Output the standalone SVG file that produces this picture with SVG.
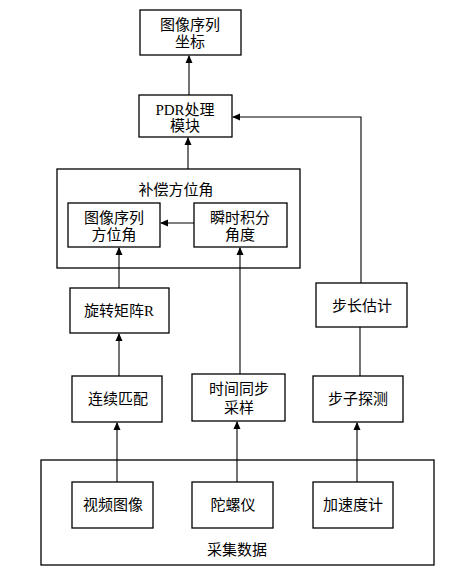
<svg xmlns="http://www.w3.org/2000/svg" width="450" height="573" viewBox="0 0 450 573">
<style>
.box{fill:#fff;stroke:#000;stroke-width:1.3}
.grp{fill:none;stroke:#000;stroke-width:1.3}
.t{font-family:"Liberation Serif","Noto Sans CJK SC",serif;font-size:15px;fill:#000;text-anchor:middle}
.c{fill:none;stroke:#000;stroke-width:1.1}
</style>
<defs>
<marker id="ah" markerWidth="8" markerHeight="8" refX="7" refY="4" orient="auto" markerUnits="userSpaceOnUse">
<path d="M0,0.5 L8,4 L0,7.5 Z" fill="#000"/>
</marker>
</defs>
<g id="collect">
<rect class="grp" x="41" y="460" width="393" height="105"/>
<text class="t" x="237" y="555">采集数据</text>
</g>
<g id="comp">
<rect class="grp" x="57" y="169" width="243" height="99"/>
<text class="t" x="176" y="195">补偿方位角</text>
</g>
<g id="n_top"><rect class="box" x="140" y="10" width="101" height="45"/><text class="t" x="190" y="30">图像序列</text><text class="t" x="190" y="47">坐标</text></g>
<g id="n_pdr"><rect class="box" x="139" y="95" width="93" height="42"/><text class="t" x="185" y="115">PDR处理</text><text class="t" x="185" y="131">模块</text></g>
<g id="n_imgang"><rect class="box" x="68" y="203" width="92" height="44"/><text class="t" x="114" y="223">图像序列</text><text class="t" x="114" y="240">方位角</text></g>
<g id="n_inst"><rect class="box" x="194" y="203" width="93" height="44"/><text class="t" x="240" y="223">瞬时积分</text><text class="t" x="240" y="240">角度</text></g>
<g id="n_rot"><rect class="box" x="70" y="288" width="99" height="45"/><text class="t" x="119" y="316">旋转矩阵R</text></g>
<g id="n_match"><rect class="box" x="72" y="376" width="90" height="46"/><text class="t" x="118" y="404">连续匹配</text></g>
<g id="n_sync"><rect class="box" x="192" y="374" width="93" height="47"/><text class="t" x="239" y="394">时间同步</text><text class="t" x="239" y="413">采样</text></g>
<g id="n_step"><rect class="box" x="316" y="283" width="91" height="44"/><text class="t" x="362" y="311">步长估计</text></g>
<g id="n_detect"><rect class="box" x="313" y="376" width="90" height="46"/><text class="t" x="358" y="404">步子探测</text></g>
<g id="n_video"><rect class="box" x="72" y="482" width="81" height="46"/><text class="t" x="113" y="510">视频图像</text></g>
<g id="n_gyro"><rect class="box" x="192" y="482" width="81" height="46"/><text class="t" x="233" y="510">陀螺仪</text></g>
<g id="n_acc"><rect class="box" x="313" y="482" width="80" height="46"/><text class="t" x="353" y="510">加速度计</text></g>
<g id="connectors">
<line class="c" x1="189" y1="95" x2="189" y2="56" marker-end="url(#ah)"/>
<line class="c" x1="188" y1="169" x2="188" y2="138" marker-end="url(#ah)"/>
<polyline class="c" points="361,283 361,117 233,117" marker-end="url(#ah)"/>
<line class="c" x1="194" y1="223" x2="161" y2="223" marker-end="url(#ah)"/>
<line class="c" x1="119" y1="288" x2="119" y2="248" marker-end="url(#ah)"/>
<line class="c" x1="240" y1="374" x2="240" y2="248" marker-end="url(#ah)"/>
<line class="c" x1="119" y1="376" x2="119" y2="334" marker-end="url(#ah)"/>
<line class="c" x1="360" y1="327" x2="360" y2="376"/>
<line class="c" x1="117" y1="482" x2="117" y2="423" marker-end="url(#ah)"/>
<line class="c" x1="237" y1="482" x2="237" y2="422" marker-end="url(#ah)"/>
<line class="c" x1="357" y1="482" x2="357" y2="423" marker-end="url(#ah)"/>
</g>
</svg>
